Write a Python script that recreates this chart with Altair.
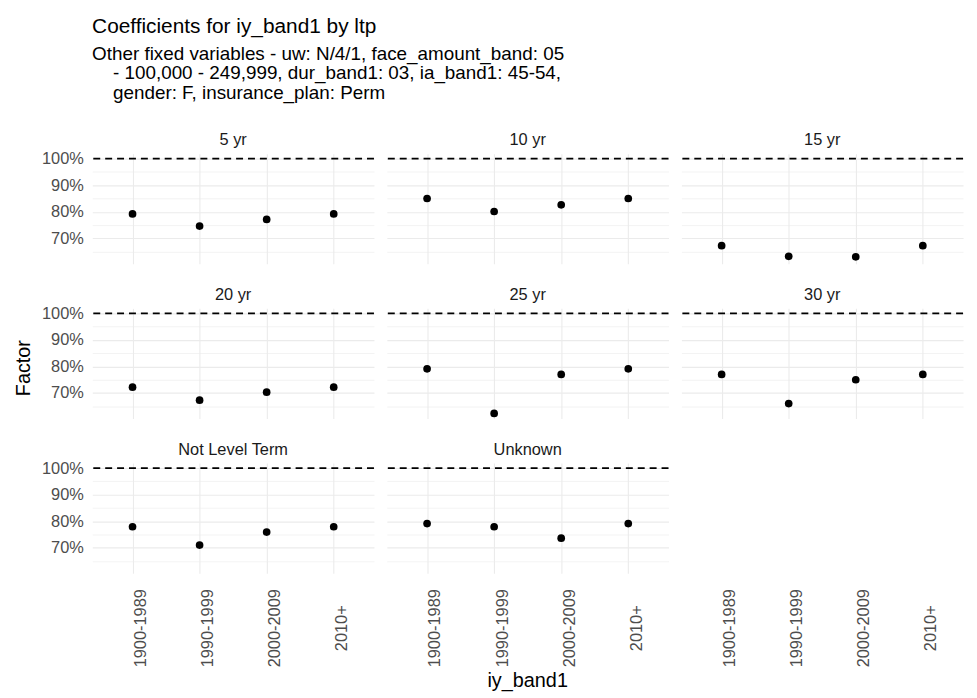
import altair as alt
import pandas as pd

FONT = "Liberation Sans"

panels = ["5 yr", "10 yr", "15 yr", "20 yr", "25 yr", "30 yr", "Not Level Term", "Unknown"]
bands = ["1900-1989", "1990-1999", "2000-2009", "2010+"]

f_5yr = [0.792, 0.746, 0.771, 0.792]
f_10yr = [0.850, 0.801, 0.826, 0.850]
f_15yr = [0.672, 0.632, 0.630, 0.672]
f_20yr = [0.722, 0.673, 0.703, 0.722]
f_25yr = [0.791, 0.623, 0.770, 0.791]
f_30yr = [0.770, 0.660, 0.750, 0.770]
f_nlt = [0.779, 0.710, 0.759, 0.779]
f_unknown = [0.791, 0.779, 0.736, 0.791]

series = [f_5yr, f_10yr, f_15yr, f_20yr, f_25yr, f_30yr, f_nlt, f_unknown]

rows = []
for p, vals in zip(panels, series):
    for b, v in zip(bands, vals):
        rows.append({"ltp": p, "iy_band1": b, "factor": v})
df = pd.DataFrame(rows)

INDENT = "\u200b" + "\u00a0" * 4
title_text = "Coefficients for iy_band1 by ltp"
subtitle_lines = [
    "Other fixed variables - uw: N/4/1, face_amount_band: 05",
    INDENT + "- 100,000 - 249,999, dur_band1: 03, ia_band1: 45-54,",
    INDENT + "gender: F, insurance_plan: Perm",
]

x_enc = alt.X(
    "iy_band1:N",
    sort=bands,
    scale=alt.Scale(type="point", padding=0.6),
    axis=alt.Axis(
        title=None,
        labelAngle=-90,
        labelAlign="center",
        labelBaseline="top",
        labelPadding=55,
    ),
)
y_enc = alt.Y(
    "factor:Q",
    scale=alt.Scale(domain=[0.604, 1.019], nice=False, zero=False),
    axis=alt.Axis(
        title=None,
        values=[0.65, 0.70, 0.75, 0.80, 0.85, 0.90, 0.95, 1.00],
        tickCount=20,
        labelExpr="round(datum.value*100) % 10 == 0 ? format(datum.value, '.0%') : ''",
        gridWidth=alt.condition("round(datum.value*100) % 10 == 0", alt.value(1.1), alt.value(0.6)),
        labelPadding=8,
    ),
)

points = alt.Chart().mark_circle(size=60, color="black", opacity=1).encode(x=x_enc, y=y_enc)
rule = (
    alt.Chart()
    .transform_filter(alt.datum.iy_band1 == bands[0])
    .mark_rule(color="black", strokeDash=[7, 5], strokeWidth=1.8)
    .encode(y=alt.datum(1.0))
)

facet_chart = (
    alt.layer(rule, points, data=df)
    .properties(width=284, height=111)
    .facet(
        facet=alt.Facet(
            "ltp:N",
            sort=panels,
            title="iy_band1",
            header=alt.Header(
                labelFont=FONT,
                labelFontSize=16.5,
                labelColor="#1A1A1A",
                labelPadding=5,
                labelOrient="top",
                titleOrient="bottom",
                titleFont=FONT,
                titleFontSize=20,
                titleFontWeight="normal",
                titleColor="black",
                titlePadding=4,
            ),
        ),
        columns=3,
        spacing={"row": 23, "column": 11},
    )
    .properties(
        title=alt.TitleParams(
            text="Factor",
            orient="left",
            anchor="middle",
            font=FONT,
            fontSize=20,
            fontWeight="normal",
            color="black",
            offset=8,
            dx=44,
        )
    )
)

chart = (
    alt.vconcat(facet_chart)
    .properties(
        background="white",
        title=alt.TitleParams(
            text=title_text,
            subtitle=subtitle_lines,
            anchor="start",
            font=FONT,
            fontSize=21,
            fontWeight="normal",
            color="black",
            subtitleFont=FONT,
            subtitleFontSize=19,
            subtitleColor="black",
            subtitlePadding=8,
            subtitleLineHeight=19.5,
            dx=79,
            offset=30,
        ),
    )
    .configure_view(stroke=None)
    .configure_axis(
        domain=False,
        ticks=False,
        tickSize=0,
        grid=True,
        gridColor="#EBEBEB",
        gridWidth=1.1,
        labelFont=FONT,
        labelFontSize=16.5,
        labelColor="#4D4D4D",
    )
)

chart.save("out.html", embed_options={"renderer": "svg", "actions": False})
